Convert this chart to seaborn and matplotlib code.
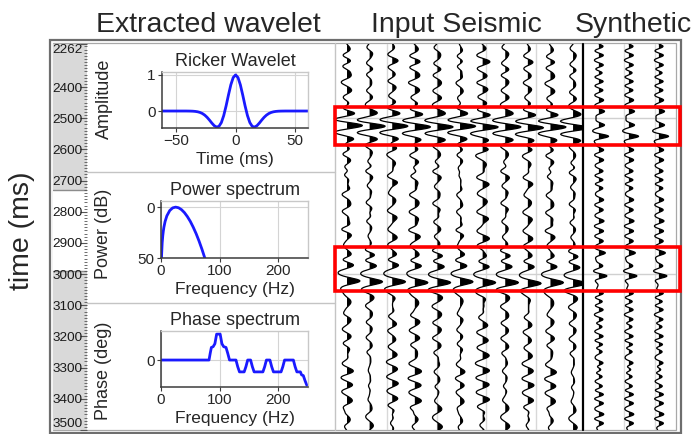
import numpy as np
import matplotlib
matplotlib.use("Agg")
import matplotlib.pyplot as plt
import seaborn as sns
from matplotlib.patches import Rectangle
from matplotlib.ticker import MultipleLocator

sns.set_theme(style="white")
plt.rcParams['font.family'] = ['Liberation Sans', 'DejaVu Sans']
plt.rcParams['axes.unicode_minus'] = True

# ---------------- data ----------------
time_range = (2262, 3500)
time_ticks = [2262, 2400, 2500, 2600, 2700, 2800, 2900, 3000, 3100, 3200, 3300, 3400, 3500]
shaded_windows = [(2262, 2729), (2991, 3500)]
window_edges = [2729, 2991]
highlight_windows = [(2463, 2585), (2912, 3053)]
horizon_times = [2500, 3000]

# Ricker wavelet (ms, amplitude)
wavelet_time = list(range(-62, 63, 2))
wavelet_amp = [0, 0, 0, 0, 0, 0, 0, 0, 0, 0, 0,
               -0.0009, -0.0022, -0.0050, -0.0106, -0.0210, -0.0392, -0.0689, -0.1135, -0.1748, -0.2509,
               -0.3337, -0.4061, -0.4451, -0.4233, -0.3195, -0.1261, 0.1418, 0.4452, 0.7272, 0.9275,
               1.0,
               0.9275, 0.7272, 0.4452, 0.1418, -0.1261, -0.3195, -0.4233, -0.4451, -0.4061, -0.3337,
               -0.2509, -0.1748, -0.1135, -0.0689, -0.0392, -0.0210, -0.0106, -0.0050, -0.0022, -0.0009,
               0, 0, 0, 0, 0, 0, 0, 0, 0, 0, 0]

# Power spectrum (Hz, dB below peak)
power_freq = [0.9, 1, 2, 3, 4, 5, 7, 10, 15, 20, 25, 30, 35, 40, 45, 50, 55, 60, 65, 70, 75]
power_db = [50, 47.2, 35.2, 28.3, 23.4, 19.6, 14.1, 8.6, 3.3, 0.75, 0, 0.65, 2.5, 5.4, 9.3,
            14.0, 19.7, 26.1, 33.4, 41.5, 50.4]

# Phase spectrum (Hz, deg)
phase_freq = [0, 82, 84, 86, 89, 92, 95, 101, 104, 107, 111, 114, 117, 128, 131, 134, 142, 145,
              148, 153, 156, 159, 174, 177, 180, 186, 189, 192, 205, 208, 211, 226, 229, 232,
              238, 240, 243, 246, 249]
phase_deg = [0, 0, 45, 85, 90, 110, 175, 175, 110, 90, 85, 45, 0, 0, -45, -80, -80, -45,
             0, 0, -45, -80, -80, -45, 0, 0, -45, -80, -80, -45, 0, 0, -45, -80,
             -80, -100, -105, -140, -170]

# Input seismic reflection events (ms, amplitude)
box_times = [2483, 2504, 2524, 2545, 2566, 2938, 2970, 2994, 3023, 3050]
box_amps = [0.5, -0.4, 1.0, -0.4, 0.5, 0.45, 0.5, -0.3, 0.95, -0.3]
bgA_times = [2286, 2345, 2370, 2420, 2445, 2607, 2627, 2660, 2691, 2729, 2783, 2842, 2868, 2900,
             3085, 3140, 3190, 3236, 3275, 3316, 3360, 3412, 3445, 3476]
bgA_amps = [0.45, 0.45, 0.4, 0.25, -0.2, 0.4, 0.35, -0.25, 0.35, 0.45, 0.4, 0.45, 0.35, 0.2,
            0.3, 0.45, 0.25, 0.5, 0.3, 0.45, 0.3, 0.5, -0.2, 0.4]
bgB_times = [2310, 2395, 2440, 2595, 2650, 2705, 2755, 2815, 2885, 3075, 3120, 3165, 3215,
             3260, 3300, 3345, 3395, 3435, 3490]
bgB_amps = [0.4, 0.35, 0.3, 0.45, 0.4, 0.4, 0.3, 0.45, 0.35, 0.35, 0.4, 0.45, 0.35,
            0.45, 0.35, 0.45, 0.35, 0.4, 0.35]
bgC_times = [2270, 2295, 2318, 2335, 2358, 2382, 2408, 2430, 2452, 2470,
             2590, 2615, 2640, 2668, 2682, 2710, 2740, 2768, 2795, 2825,
             2855, 2878, 2905, 2922, 3065, 3098, 3130, 3152, 3178, 3203,
             3228, 3250, 3282, 3308, 3330, 3355, 3372, 3400, 3425, 3458, 3485]
bgC_amps = [0.2, -0.2, 0.25, -0.15, 0.2, -0.25, 0.2, -0.2, 0.15, -0.2,
            0.2, -0.25, 0.2, 0.25, -0.2, 0.2, -0.2, 0.25, -0.2, 0.2,
            -0.25, 0.2, -0.15, 0.2, -0.2, 0.25, -0.2, 0.2, -0.2, 0.25,
            -0.15, 0.2, -0.25, 0.2, -0.2, 0.2, -0.15, 0.25, -0.2, 0.2, -0.25]
trace_mix = [0.15, 0.55, 0.85, 0.35, 0.65, 0.25, 0.9, 0.5, 0.75, 0.3, 0.6]
trace_noise = [1.0, -0.6, 0.8, 1.2, -0.9, 0.7, 1.1, -0.8, 0.9, 1.0, -0.7]
trace_shift_ms = [0, 2, 1, 3, 4, 2, 5, 4, 6, 5, 7]

# Synthetic reflectivity events (ms, amplitude)
syn_times = [2270, 2297, 2329, 2355, 2382, 2409, 2441, 2478, 2521, 2559, 2601, 2633, 2671, 2697,
             2724, 2762, 2794, 2831, 2863, 2895, 2932, 2975, 3007, 3061, 3088, 3114, 3146, 3168,
             3200, 3226, 3248, 3285, 3306, 3328, 3360, 3387, 3413, 3451, 3477]
syn_amps = [0.55, 0.6, 0.65, 0.55, 0.6, 0.55, 0.6, 0.7, 0.7, 1.2, 0.6, 0.6, 0.55, 0.6,
            0.55, 0.6, 0.55, 0.65, 0.6, 0.55, 0.8, 0.5, 1.0, 0.6, 0.55, 0.6, 0.65, 0.55,
            0.6, 0.65, 0.55, 0.7, 0.6, 0.55, 0.5, 0.65, 0.6, 0.65, 0.6]
n_syn_traces = 3

# ---------------- layout ----------------
W, H = 699, 434
fig = plt.figure(figsize=(W / 100, H / 100), dpi=100)


def px_axes(x0, y0, x1, y1, **kw):
    return fig.add_axes([x0 / W, 1 - y1 / H, (x1 - x0) / W, (y1 - y0) / H], **kw)


bg = px_axes(0, 0, W, H, zorder=-5)
bg.set_xlim(0, W)
bg.set_ylim(H, 0)
bg.axis('off')
bg.add_patch(Rectangle((50, 40), 631, 393, fill=False, ec='#6e6e6e', lw=1.6))
bg.add_patch(Rectangle((53, 43), 623, 387, fill=False, ec='#a8a8a8', lw=0.9))
for yy in (172, 303):
    bg.plot([87, 335], [yy, yy], color='#c4c4c4', lw=1)
bg.plot([335, 335], [43, 430], color='#c4c4c4', lw=1)

# big headings
big = 20.5
fig.text(208 / W, 1 - 32 / H, 'Extracted wavelet', fontsize=big, ha='center', va='baseline')
fig.text(456 / W, 1 - 32 / H, 'Input Seismic', fontsize=big, ha='center', va='baseline')
fig.text(633 / W, 1 - 32 / H, 'Synthetic', fontsize=big, ha='center', va='baseline')
fig.text(22 / W, 1 - 231 / H, 'time (ms)', fontsize=big, rotation=90, ha='center', va='center')

# time column
ax_t = px_axes(53, 44, 87, 430)
ax_t.set_axisbelow(False)
ax_t.set_ylim(time_range[1], time_range[0])
ax_t.set_xlim(0, 1)
for a, b in shaded_windows:
    ax_t.axhspan(a, b, color='#d9d9d9', lw=0, zorder=0)
for b in window_edges:
    ax_t.axhline(b, color='#8c8c8c', lw=1, zorder=0.5)
ax_t.set_yticks(time_ticks)
ax_t.set_yticklabels([str(v) for v in time_ticks])
ax_t.yaxis.set_minor_locator(MultipleLocator(10))
ax_t.tick_params(axis='y', which='both', left=False, right=True, labelleft=True,
                 labelright=False, direction='in', color='#555555')
ax_t.tick_params(axis='y', which='major', length=5, width=0.8, pad=-21.5, labelsize=9.7,
                 labelcolor='#1a1a1a')
ax_t.tick_params(axis='y', which='minor', length=2.5, width=0.6)
ax_t.set_xticks([])
for s in ax_t.spines.values():
    s.set_visible(False)
lbls = ax_t.get_yticklabels()
lbls[0].set_va('top')
lbls[-1].set_va('bottom')


def style_panel(ax):
    ax.set_facecolor('white')
    ax.grid(True, color='#d4d4d4', lw=0.8)
    for side in ('left', 'bottom'):
        ax.spines[side].set_color('#3c3c3c')
        ax.spines[side].set_linewidth(1.1)
    for side in ('top', 'right'):
        ax.spines[side].set_color('#c8c8c8')
        ax.spines[side].set_linewidth(1.0)
    ax.tick_params(length=3, width=0.8, color='#3c3c3c', labelsize=11, pad=1.5,
                   direction='out', bottom=True, left=True)


blue = '#1a1aff'

# Ricker wavelet
ax_w = px_axes(162, 72, 308, 128)
sns.lineplot(x=wavelet_time, y=wavelet_amp, ax=ax_w, color=blue, lw=2)
ax_w.set_xlim(-62, 61)
ax_w.set_ylim(-0.47, 1.08)
ax_w.set_xticks([-50, 0, 50])
ax_w.set_yticks([0, 1])
style_panel(ax_w)
ax_w.set_title('Ricker Wavelet', fontsize=13, pad=4.5)
ax_w.set_xlabel('Time (ms)', fontsize=12.5, labelpad=3)
ax_w.set_ylabel('Amplitude', fontsize=13, va='center')
ax_w.yaxis.set_label_coords(-0.397, 0.518)

# Power spectrum
ax_p = px_axes(161, 201, 308, 258)
sns.lineplot(x=power_freq, y=power_db, ax=ax_p, color=blue, lw=2)
ax_p.set_xlim(0, 251)
ax_p.set_ylim(50, -6)
ax_p.set_xticks([0, 100, 200])
ax_p.set_yticks([0, 50])
style_panel(ax_p)
ax_p.set_title('Power spectrum', fontsize=13, pad=4.5)
ax_p.set_xlabel('Frequency (Hz)', fontsize=12.5, labelpad=3)
ax_p.set_ylabel('Power (dB)', fontsize=13, va='center')
ax_p.yaxis.set_label_coords((104 - 161) / 147, (258 - 234) / 57)

# Phase spectrum
ax_ph = px_axes(161, 331, 308, 387)
sns.lineplot(x=phase_freq, y=phase_deg, ax=ax_ph, color=blue, lw=2)
ax_ph.set_xlim(0, 251)
ax_ph.set_ylim(-182, 196)
ax_ph.set_xticks([0, 100, 200])
ax_ph.set_yticks([0])
style_panel(ax_ph)
ax_ph.set_title('Phase spectrum', fontsize=13, pad=4.5)
ax_ph.set_xlabel('Frequency (Hz)', fontsize=12.5, labelpad=3)
ax_ph.set_ylabel('Phase (deg)', fontsize=13, va='center')
ax_ph.yaxis.set_label_coords((104 - 161) / 147, (387 - 371) / 56)

# ---------------- seismic traces ----------------
wavelet = np.asarray(wavelet_amp)


def convolve_events(times, amps, grid, dt):
    r = np.zeros(grid.size)
    idx = np.round((np.asarray(times, float) - grid[0]) / dt).astype(int)
    np.add.at(r, idx, np.asarray(amps, float))
    return np.convolve(r, wavelet, mode='same')


def draw_wiggle(ax, pos, t, s, gain):
    x = pos + gain * s
    ax.fill_betweenx(t, pos, x, where=s > 0, interpolate=True, color='black', lw=0)
    ax.plot(x, t, color='black', lw=0.9, solid_joinstyle='round')


dt_in = 2.6
grid_in = np.arange(time_range[0] - 150, time_range[1] + 150, dt_in)
ax_in = px_axes(333, 44, 583, 430)
ax_in.set_ylim(time_range[1], time_range[0])
ax_in.set_xlim(0.38, 11.44)
ax_in.axis('off')
for gx in (2.77, 4.98, 7.15, 9.36):
    ax_in.axvline(gx, color='#d8d8d8', lw=1, zorder=0)
for ht in horizon_times:
    ax_in.axhline(ht, color='#d0d0d0', lw=1, zorder=0)
for i, (w, nz, sh) in enumerate(zip(trace_mix, trace_noise, trace_shift_ms)):
    s = (convolve_events(np.add(box_times, sh), box_amps, grid_in, dt_in)
         + 0.8 * (1 - w) * convolve_events(np.add(bgA_times, sh), bgA_amps, grid_in, dt_in)
         + 0.8 * w * convolve_events(np.add(bgB_times, sh), bgB_amps, grid_in, dt_in)
         + nz * convolve_events(np.add(bgC_times, sh), bgC_amps, grid_in, dt_in))
    draw_wiggle(ax_in, i + 1, grid_in, s, 0.52)

dt_syn = 2.0
grid_syn = np.arange(time_range[0] - 100, time_range[1] + 100, dt_syn)
ax_syn = px_axes(583, 44, 676, 430)
ax_syn.set_ylim(time_range[1], time_range[0])
ax_syn.set_xlim(0.47, 3.57)
ax_syn.axis('off')
for gx in (1.84, 2.87):
    ax_syn.axvline(gx, color='#dcdcdc', lw=1, zorder=0)
for ht in horizon_times:
    ax_syn.axhline(ht, color='#d0d0d0', lw=1, zorder=0)
ax_syn.axvline(0.47, color='black', lw=1.6, clip_on=False)
syn = convolve_events(syn_times, syn_amps, grid_syn, dt_syn)
for k in range(n_syn_traces):
    draw_wiggle(ax_syn, k + 1, grid_syn, syn, 0.27)

# highlight boxes
ax_ov = px_axes(333, 44, 681, 430)
ax_ov.set_ylim(time_range[1], time_range[0])
ax_ov.set_xlim(0, 1)
ax_ov.axis('off')
for t0, t1 in highlight_windows:
    ax_ov.add_patch(Rectangle(((335 - 333) / 348, t0), (680 - 335) / 348, t1 - t0,
                              fill=False, ec='#ff0000', lw=2.6, clip_on=False))

fig.savefig('out.png', dpi=100)
